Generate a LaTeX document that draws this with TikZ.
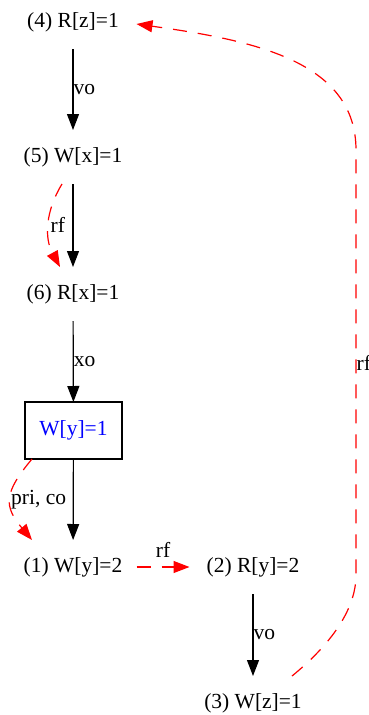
\documentclass[tikz,border=0pt]{standalone}
\usepackage{fontspec}
\setmainfont{Liberation Serif}
\usetikzlibrary{arrows.meta}
\begin{document}
\begin{tikzpicture}[x=1pt,y=1pt,
  every node/.style={font=\fontsize{21.5}{25}\selectfont},
  ev/.style={minimum width=127pt, minimum height=54pt, inner sep=0pt, outer sep=0pt},
  boxnode/.style={draw=black, line width=1.3pt, minimum width=97pt, minimum height=57pt, inner sep=0pt, outer sep=0pt, text=blue},
  blk/.style={draw=black, line width=1.2pt, -{Triangle[length=16pt,width=12pt]}},
  rdash/.style={draw=red, line width=1.2pt, dash pattern=on 14pt off 11pt, -{Triangle[length=16pt,width=12pt,fill=red]}},
  lbl/.style={inner sep=0pt, text=black}
]
\useasboundingbox (0,0) rectangle (369,-715);
\node[ev] (n4) at (73,-22) {(4) R[z]=1};
\node[ev] (n5) at (73,-157) {(5) W[x]=1};
\node[ev] (n6) at (73,-294) {(6) R[x]=1};
\node[boxnode] (wy) at (73.5,-430.5) {W[y]=1};
\node[ev] (n1) at (73,-567) {(1) W[y]=2};
\node[ev] (n2) at (253,-567) {(2) R[y]=2};
\node[ev] (n3) at (253,-703) {(3) W[z]=1};

\draw[blk] (n4) -- node[lbl, anchor=west] {vo} (n5);
\draw[blk] (n5) -- (n6);
\draw[rdash] ([xshift=-11pt]n5.south) to[bend right=30] node[lbl, xshift=9pt] {rf} ([xshift=-13pt]n6.north);
\draw[blk] (n6) -- node[lbl, anchor=west] {xo} (wy);
\draw[blk] (wy) -- (n1);
\draw[rdash] ([xshift=-41.5pt]wy.south) to[out=230, in=130, looseness=1.4] node[lbl, xshift=28pt] {pri, co} ([xshift=-41pt]n1.north);
\draw[rdash] (n1) -- node[lbl, yshift=17pt] {rf} (n2);
\draw[blk] (n2) -- node[lbl, anchor=west] {vo} (n3);
\draw[rdash] ([xshift=39pt]n3.north) .. controls (330,-645) and (356,-610) .. (356,-575)
  -- node[lbl, anchor=west] {rf} (356,-150)
  .. controls (356,-60) and (250,-40) .. ([yshift=-2pt]n4.east);
\end{tikzpicture}
\end{document}
